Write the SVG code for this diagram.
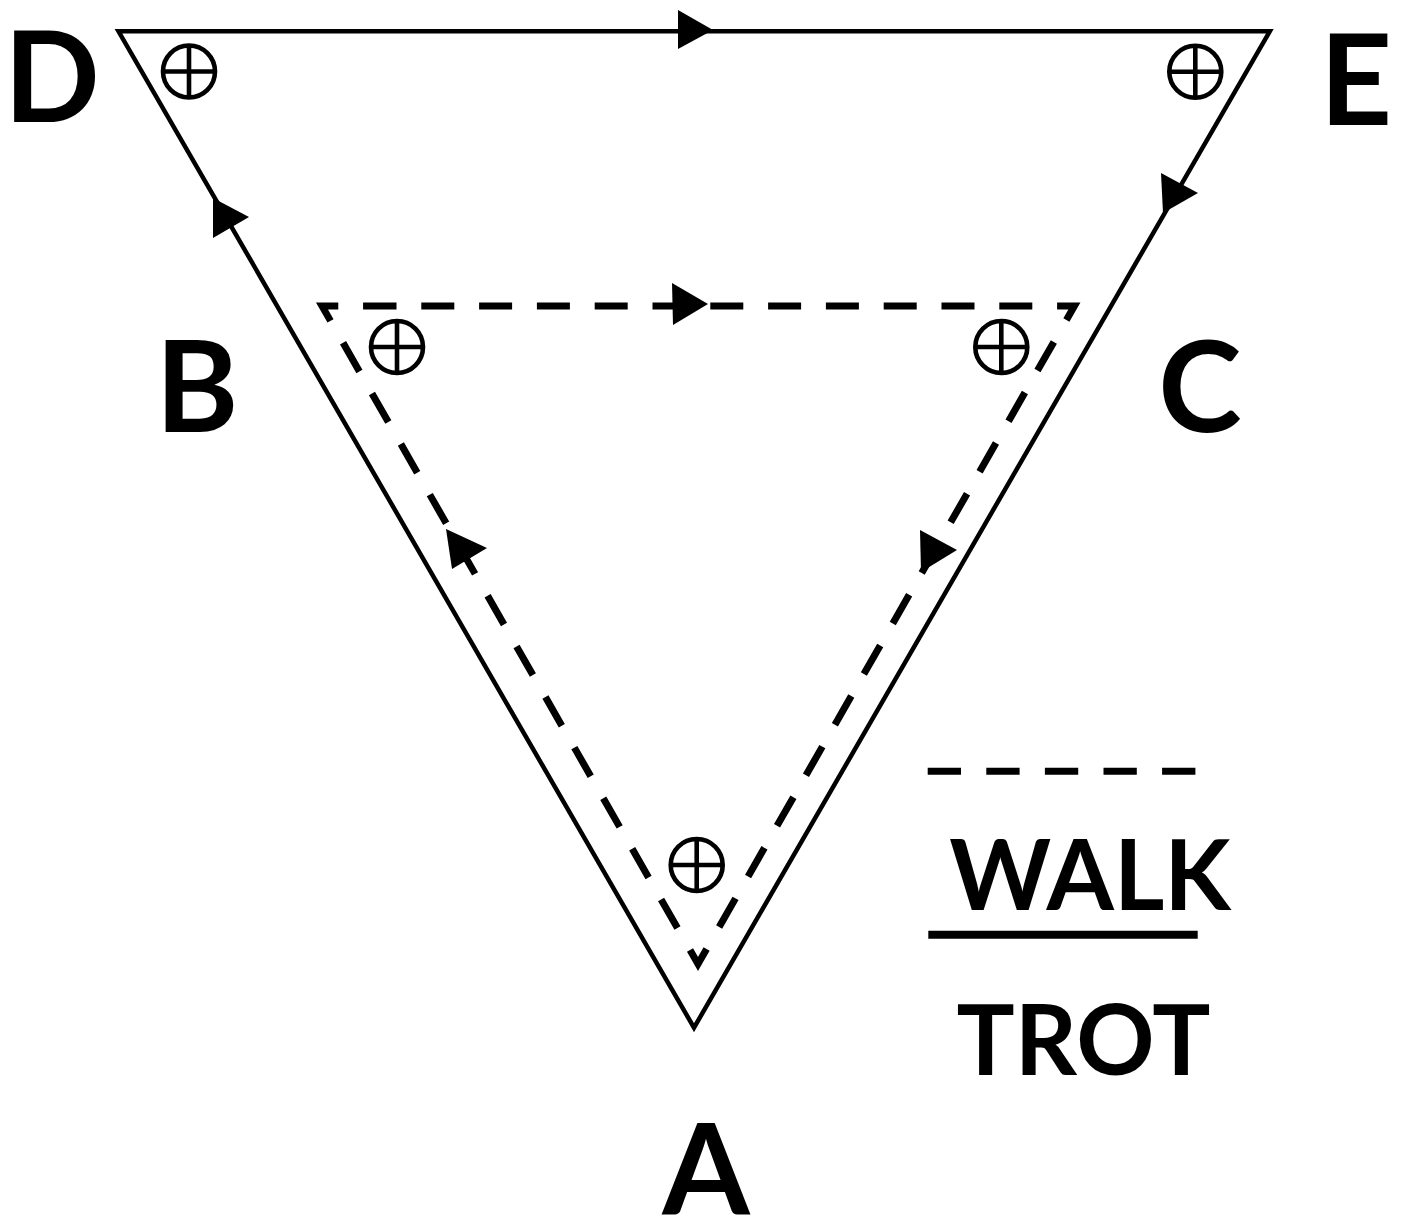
<svg xmlns="http://www.w3.org/2000/svg" width="1406" height="1219" viewBox="0 0 1406 1219">
<style>
.lbl{font-family:Lato,"Liberation Sans",sans-serif;font-weight:700;fill:#000;text-anchor:middle}
.big{font-size:126px}
.leg{font-size:97px}
.solid{fill:none;stroke:#000;stroke-width:4.5}
.dash{fill:none;stroke:#000;stroke-width:7}
.head{fill:#000;stroke:none}
.sym{fill:none;stroke:#000;stroke-width:4.6}
</style>
<defs>
  <g id="cross-circle" class="sym">
    <circle cx="0" cy="0" r="26"/>
    <line x1="-26" y1="0" x2="26" y2="0"/>
    <line x1="0" y1="-26" x2="0" y2="26"/>
  </g>
</defs>
<rect width="1406" height="1219" fill="#fff"/>
<g id="connectors">
  <polygon class="solid" points="118.5,31.3 1269.8,31.3 694,1027.7"/>
  <path class="dash" d="M363.5,306 L1074.4,306 L698,964 L322,306 Z" stroke-dasharray="33 24.8 33 24.8 33 24.8 33 24.8 33 24.8 33 24.8 33 24.8 33 24.8 33 24.8 33 24.8 33 24.8 33 24.8 33.4 25.28 33 25.28 33 25.28 33 25.28 33 25.28 33 25.28 33 25.28 33 25.28 33 25.28 33 25.28 33 25.28 33 25.28 33 25.28 33.4 25.28 33 25.28 33 25.28 33 25.28 33 25.28 33 25.28 33 25.28 33 25.28 33 25.28 33 25.28 33 25.28 33 25.28 33 25.28 33.4 24.8"/>
  <polygon class="head" points="678,10 713,30 678,49"/>
  <polygon class="head" points="213,198 249,217 213,238"/>
  <polygon class="head" points="1161,173 1198,193 1163,213"/>
  <polygon class="head" points="672,283 708,304 673,325"/>
  <polygon class="head" points="446,529 487,548 452,569"/>
  <polygon class="head" points="920,530 957,550 921,572"/>
</g>
<g id="node-D"><text class="lbl big" x="52" y="122">D</text><use href="#cross-circle" x="189" y="71.5"/></g>
<g id="node-E"><text class="lbl big" x="1356" y="125">E</text><use href="#cross-circle" x="1195.3" y="71.8"/></g>
<g id="node-B"><text class="lbl big" x="197" y="432">B</text><use href="#cross-circle" x="397" y="347"/></g>
<g id="node-C"><text class="lbl big" x="1200" y="432">C</text><use href="#cross-circle" x="1001.3" y="347"/></g>
<g id="node-A"><text class="lbl big" x="706" y="1215">A</text><use href="#cross-circle" x="696.7" y="865"/></g>
<g id="legend">
  <line x1="927.7" y1="771.3" x2="1195.7" y2="771.3" style="stroke:#000;stroke-width:7;stroke-dasharray:33.3 25.3"/>
  <text class="lbl leg" x="1090" y="910">WALK</text>
  <line x1="928.3" y1="934.8" x2="1197.7" y2="934.8" style="stroke:#000;stroke-width:8"/>
  <text class="lbl leg" x="1083.5" y="1075">TROT</text>
</g>
</svg>
